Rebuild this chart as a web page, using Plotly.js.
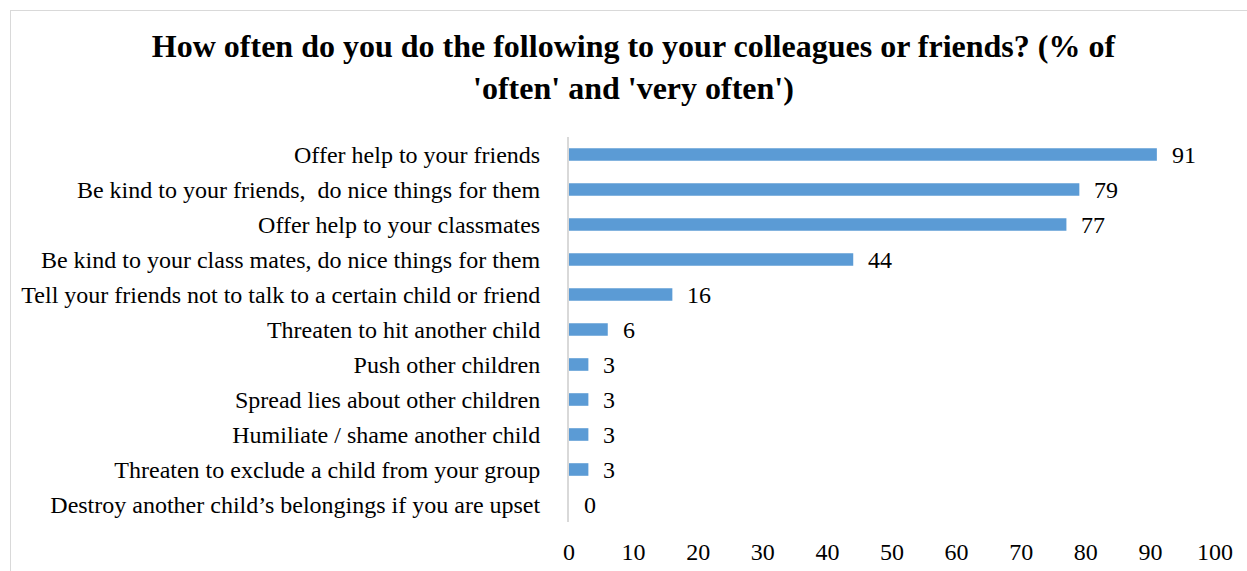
<!DOCTYPE html>
<html>
<head>
<meta charset="utf-8">
<script src="https://cdn.plot.ly/plotly-3.0.1.min.js"></script>
<style>
html,body{margin:0;padding:0;background:#fff;}
#chart{width:1247px;height:571px;position:relative;}
#frame{position:absolute;left:10px;top:10px;width:1300px;height:700px;border-left:1px solid #d9d9d9;border-top:1px solid #d9d9d9;pointer-events:none;}
</style>
</head>
<body>
<div id="chart"></div>
<div id="frame"></div>
<script>
const categories = [
  "Offer help to your friends",
  "Be kind to your friends,\u00a0 do nice things for them",
  "Offer help to your classmates",
  "Be kind to your class mates, do nice things for them",
  "Tell your friends not to talk to a certain child or friend",
  "Threaten to hit another child",
  "Push other children",
  "Spread lies about other children",
  "Humiliate / shame another child",
  "Threaten to exclude a child from your group",
  "Destroy another child\u2019s belongings if you are upset"
];
const values = [91, 79, 77, 44, 16, 6, 3, 3, 3, 3, 0];
const xTicks = [0, 10, 20, 30, 40, 50, 60, 70, 80, 90, 100];

const font = "Liberation Serif, Times New Roman, serif";

const trace = {
  type: "bar",
  orientation: "h",
  y: categories,
  x: values,
  marker: {color: "#5B9BD5"},
  width: 0.36,
  hoverinfo: "x+y"
};

const annotations = values.map((v, i) => ({
  x: v, y: categories[i], xref: "x", yref: "y",
  text: String(v), showarrow: false, xanchor: "left", xshift: 13,
  font: {family: font, size: 24, color: "#000"}
}));

const layout = {
  width: 1247, height: 571,
  margin: {l: 569, r: 32, t: 137, b: 49},
  paper_bgcolor: "#fff", plot_bgcolor: "#fff",
  showlegend: false,
  title: {
    text: "<b>How often do you do the following to your colleagues or friends? (% of<br>'often' and 'very often')</b>",
    font: {family: font, size: 32, color: "#000"},
    x: 0.508, xanchor: "center", y: 0.9, yanchor: "top"
  },
  xaxis: {
    range: [0, 100], tickvals: xTicks, ticktext: xTicks.map(String),
    showgrid: false, zeroline: false, showline: false,
    ticks: "outside", ticklen: 8, tickcolor: "rgba(0,0,0,0)",
    tickfont: {family: font, size: 24, color: "#000"}, fixedrange: true
  },
  yaxis: {
    autorange: "reversed", type: "category",
    showgrid: false, zeroline: false, showline: true, linecolor: "#d9d9d9", linewidth: 2,
    ticks: "outside", ticklen: 22, tickcolor: "rgba(0,0,0,0)",
    tickfont: {family: font, size: 24, color: "#000"}, fixedrange: true
  },
  annotations: annotations
};

Plotly.newPlot("chart", [trace], layout, {displayModeBar: false, staticPlot: true});
</script>
</body>
</html>
